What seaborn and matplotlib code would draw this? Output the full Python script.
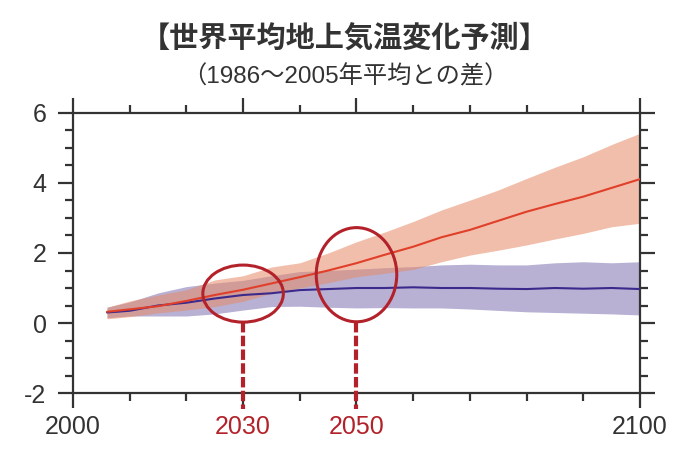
import matplotlib
matplotlib.use("Agg")
import matplotlib.pyplot as plt
from matplotlib.patches import Ellipse
from matplotlib.ticker import MultipleLocator
import seaborn as sns
import pandas as pd

years = [2006, 2010, 2015, 2020, 2025, 2030, 2035, 2040, 2045, 2050,
         2055, 2060, 2065, 2070, 2075, 2080, 2085, 2090, 2095, 2100]

# RCP8.5 (red)
high_mean = [0.32, 0.39, 0.48, 0.63, 0.80, 0.95, 1.13, 1.31, 1.50, 1.71,
             1.95, 2.18, 2.45, 2.66, 2.92, 3.18, 3.40, 3.61, 3.86, 4.11]
high_upper = [0.45, 0.63, 0.80, 0.95, 1.23, 1.35, 1.60, 1.72, 2.00, 2.32,
              2.60, 2.90, 3.23, 3.51, 3.80, 4.13, 4.45, 4.75, 5.10, 5.42]
high_lower = [0.12, 0.18, 0.29, 0.37, 0.47, 0.62, 0.85, 1.00, 1.15, 1.32,
              1.42, 1.53, 1.75, 1.94, 2.08, 2.23, 2.40, 2.56, 2.75, 2.85]

# RCP2.6 (purple)
low_mean = [0.30, 0.35, 0.50, 0.58, 0.70, 0.80, 0.85, 0.94, 0.97, 1.00,
            1.00, 1.02, 1.00, 1.00, 0.98, 0.97, 1.00, 0.98, 1.00, 0.97]
low_upper = [0.45, 0.60, 0.86, 1.04, 1.14, 1.22, 1.35, 1.47, 1.50, 1.54,
             1.58, 1.61, 1.66, 1.68, 1.66, 1.66, 1.72, 1.75, 1.72, 1.75]
low_lower = [0.15, 0.20, 0.20, 0.20, 0.26, 0.37, 0.47, 0.48, 0.45, 0.43,
             0.44, 0.43, 0.43, 0.40, 0.36, 0.32, 0.30, 0.28, 0.26, 0.23]

xtick_years = [2000, 2030, 2050, 2100]
xtick_colors = ["#333333", "#b3222a", "#b3222a", "#333333"]
focus_years = [2030, 2050]
focus_centers = [0.84, 1.38]
focus_heights = [1.63, 2.69]

df = pd.DataFrame({"year": years,
                   "high": high_mean, "high_up": high_upper, "high_lo": high_lower,
                   "low": low_mean, "low_up": low_upper, "low_lo": low_lower})

sns.set_theme(style="ticks")
plt.rcParams["font.family"] = ["Liberation Sans", "Noto Sans CJK JP", "DejaVu Sans"]
plt.rcParams["axes.unicode_minus"] = False

fig = plt.figure(figsize=(6.9, 4.58), dpi=100)
ax = fig.add_axes([0.1058, 0.1419, 0.8217, 0.6114])

ax.fill_between(df["year"], df["low_lo"], df["low_up"], color="#b8b1d4", lw=0, zorder=1)
ax.fill_between(df["year"], df["high_lo"], df["high_up"], color="#e68a66", alpha=0.55, lw=0, zorder=2)
sns.lineplot(data=df, x="year", y="low", color="#3b2a8c", lw=1.5, ax=ax, zorder=3)
sns.lineplot(data=df, x="year", y="high", color="#e0402a", lw=1.5, ax=ax, zorder=4)

red = "#b3222a"
for yr, cy, h in zip(focus_years, focus_centers, focus_heights):
    ax.add_patch(Ellipse((yr, cy), 14.2, h, fill=False, ec=red, lw=2.2, zorder=5))
    ax.plot([yr, yr], [cy - h / 2, -2.45], color=red, lw=3, ls=(0, (2.5, 0.8)),
            clip_on=False, zorder=5)

ax.set_xlim(2000, 2100)
ax.set_ylim(-2, 6)
ax.set_xticks(xtick_years)
ax.set_xticklabels([str(y) for y in xtick_years])
ax.xaxis.set_minor_locator(MultipleLocator(10))
ax.set_yticks([-2, 0, 2, 4, 6])
ax.yaxis.set_minor_locator(MultipleLocator(0.5))
ax.set_xlabel("")
ax.set_ylabel("")

for s in ax.spines.values():
    s.set_linewidth(1.6)
    s.set_color("#333333")
ax.tick_params(which="both", direction="out", top=True, right=True, color="#333333", width=1.6)
ax.tick_params(which="major", length=11, labelsize=18, labelcolor="#333333")
ax.tick_params(axis="y", which="major", pad=8)
ax.tick_params(axis="x", which="major", pad=5)
ax.tick_params(which="minor", length=6)
for lab, c in zip(ax.get_xticklabels(), xtick_colors):
    lab.set_color(c)

fig.text(0.50, 0.918, "【世界平均地上気温変化予測】", ha="center", va="center",
         fontsize=21, fontweight="bold", color="#333333",
         family=["Noto Sans CJK JP", "DejaVu Sans"])
fig.text(0.50, 0.832, "（1986～2005年平均との差）", ha="center", va="center",
         fontsize=17.5, color="#333333",
         family=["Liberation Sans", "Noto Sans CJK JP", "DejaVu Sans"])

fig.savefig("out.png", dpi=100)
